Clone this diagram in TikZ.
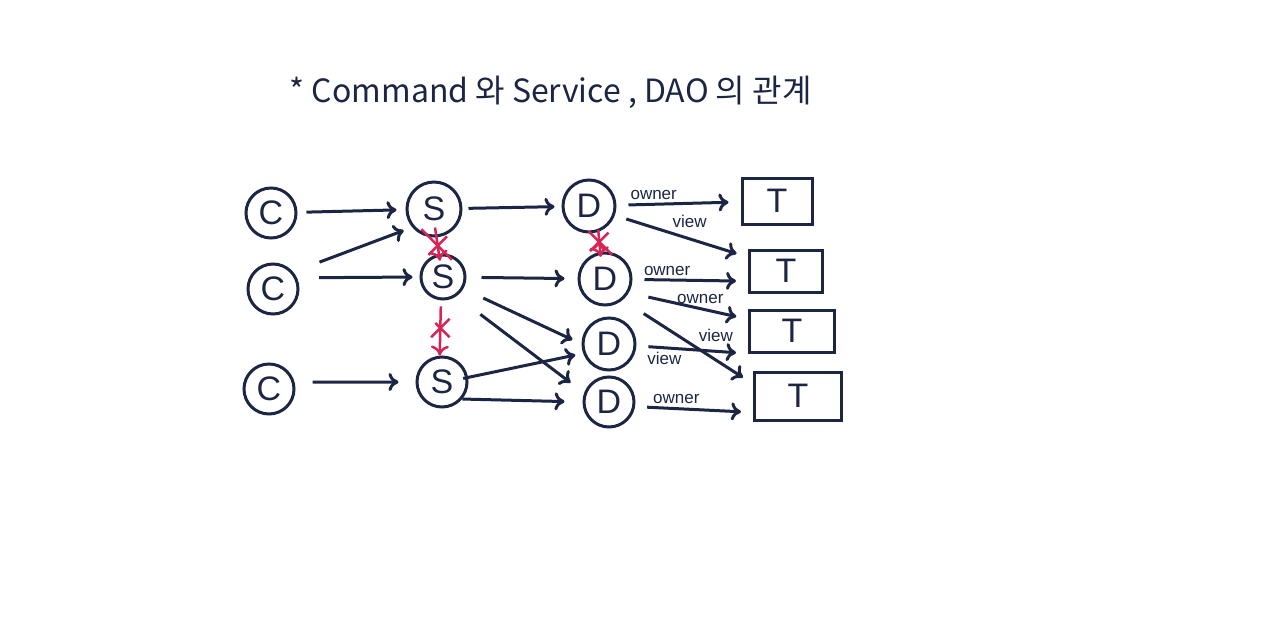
\documentclass[tikz,border=0pt]{standalone}
\usepackage{fontspec}
\setmainfont{Liberation Sans}
\newfontfamily\kofont{Noto Sans CJK KR}
\usepackage{tikz}
\usetikzlibrary{shapes}
\usetikzlibrary{arrows.meta,positioning}
\definecolor{ink}{RGB}{28,38,68}
\definecolor{pen}{RGB}{215,35,85}
\tikzstyle{main node}=[circle,draw=ink,line width=3pt,minimum size=50pt,inner sep=0pt,text=ink,font=\fontsize{34}{34}\selectfont]
\tikzstyle{table node}=[rectangle,draw=ink,line width=3pt,inner sep=0pt,text=ink,font=\fontsize{34}{34}\selectfont]
\tikzstyle{label node}=[text=ink,inner sep=3pt,font=\fontsize{17}{17}\selectfont]
\tikzstyle{no edge}=[draw=pen,line width=2.5pt]
\tikzstyle{no mark}=[cross out,draw=pen,line width=2.5pt,minimum size=16pt,inner sep=0pt]
\begin{document}
\begin{tikzpicture}[->,>={Computer Modern Rightarrow[length=10pt,width=18pt]}, x=1pt, y=-1pt, on grid, draw=ink, line width=3pt, shorten >=9pt, shorten <=9pt]
  \useasboundingbox (0,0) rectangle (1280,635);

  \node[text=ink, anchor=base west, font=\kofont\fontsize{32}{32}\selectfont] (title) at (285,102) {* Command 와 Service , DAO 의 관계};

  % commands
  \node[main node] (c1) at (271,213) {C};
  \node[main node] (c2) [below right = 76pt and 2pt of c1] {C};
  \node[main node] (c3) [below left = 100pt and 4pt of c2] {C};

  % services
  \node[main node, minimum size=54pt] (s1) [above right = 4pt and 163pt of c1] {S};
  \node[main node, minimum size=44pt] (s2) [below right = 68pt and 9pt of s1] {S};
  \node[main node] (s3) [below left = 105pt and 1pt of s2] {S};

  % daos
  \node[main node, minimum size=52pt] (d1) [above right = 3pt and 155pt of s1] {D};
  \node[main node, minimum size=52pt] (d2) [below right = 73pt and 16pt of d1] {D};
  \node[main node, minimum size=52pt] (d3) [below right = 65pt and 4pt of d2] {D};
  \node[main node] (d4) [below = 58pt of d3] {D};

  % tables
  \node[table node, minimum width=70pt, minimum height=46pt] (t1) [above right = 5pt and 188pt of d1] {T};
  \node[table node, minimum width=73pt, minimum height=42pt] (t2) [above right = 8pt and 181pt of d2] {T};
  \node[table node, minimum width=85pt, minimum height=42pt] (t3) [above right = 13pt and 183pt of d3] {T};
  \node[table node, minimum width=87pt, minimum height=48pt] (t4) [above right = 6pt and 189pt of d4] {T};

  \path[]
  (c1) edge (s1)
  (c2.40) edge[shorten <=28pt] (s1.220)
  (c2.25) edge[shorten <=22pt, shorten >=7pt] (s2.west)
  (c3.15) edge[shorten <=18pt, shorten >=17pt] (s3.west)
  (s1) edge[shorten <=6pt, shorten >=7pt] (d1)
  (s2) edge[shorten <=15pt, shorten >=13pt] (d2)
  (s2.-30) edge[shorten <=22pt, shorten >=10pt] (d3.180)
  (s2.-55) edge[shorten <=30pt, shorten >=17pt] (d4.160)
  (s3.10) edge[shorten <=-5pt, shorten >=8pt] (d3.200)
  (s3.-40) edge[shorten <=0pt, shorten >=18pt] (d4.180);

  \path[shorten <=12pt, shorten >=12pt]
  (d1) edge node[label node, above, pos=0.3] {owner} (t1)
  (d1.-20) edge node[label node, above right, pos=0.4] {view} (t2.160)
  (d2) edge node[label node, above, pos=0.3] {owner} (t2.195)
  (d2.-30) edge[shorten <=20pt] node[label node, above, pos=0.6] {owner} (t3.165)
  (d2.-50) edge[shorten <=25pt] node[label node, above right, pos=0.55] {view} (t4.165)
  (d3) edge node[label node, below, pos=0.25] {view} (t3.south west)
  (d4.-10) edge node[label node, above, pos=0.35] {owner} (t4.200);

  % calls that are not allowed
  \path[no edge]
  (s1.-85) edge[shorten <=-10pt, shorten >=-7pt] node[no mark] {} (s2.100)
  (s2.-95) edge[shorten <=6pt, shorten >=0pt] node[no mark] {} (s3.95)
  (d1.-70) edge[shorten <=-2pt, shorten >=-5pt] node[no mark] {} (d2.100);

\end{tikzpicture}
\end{document}
